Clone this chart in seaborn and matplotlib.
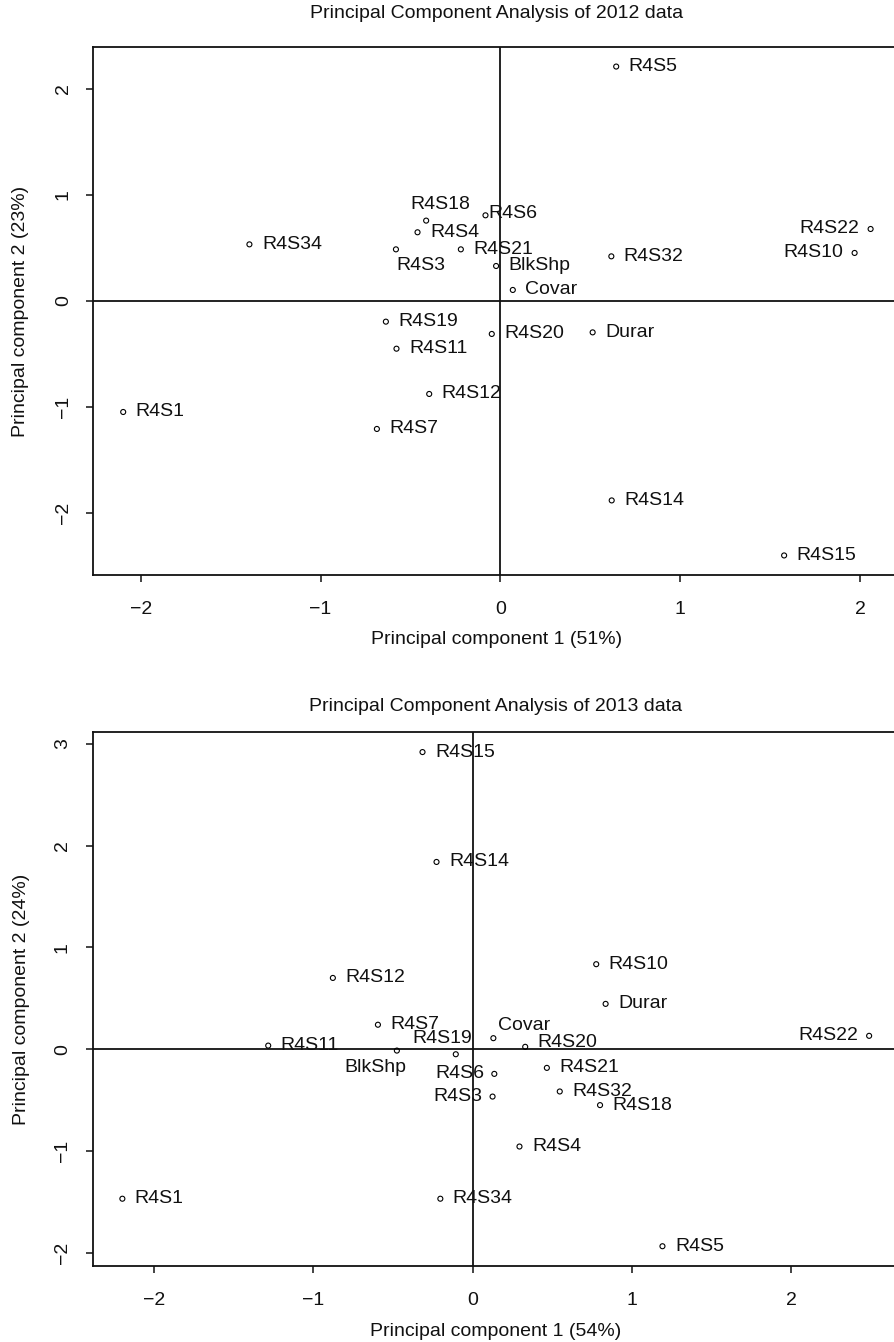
import matplotlib
matplotlib.use("Agg")
import matplotlib.pyplot as plt
import seaborn as sns
import pandas as pd

# ---------------- data ----------------
names_2012 = ["R4S5", "R4S18", "R4S4", "R4S6", "R4S34", "R4S3", "R4S21", "BlkShp",
              "Covar", "R4S32", "R4S22", "R4S10", "R4S19", "R4S11", "R4S20", "Durar",
              "R4S12", "R4S7", "R4S1", "R4S14", "R4S15"]
pc1_2012 = [0.644, -0.413, -0.461, -0.083, -1.396, -0.581, -0.220, -0.024,
            0.069, 0.617, 2.059, 1.970, -0.637, -0.578, -0.048, 0.513,
            -0.396, -0.687, -2.098, 0.619, 1.578]
pc2_2012 = [2.208, 0.755, 0.645, 0.805, 0.531, 0.484, 0.484, 0.327,
            0.101, 0.418, 0.676, 0.450, -0.198, -0.453, -0.314, -0.299,
            -0.880, -1.210, -1.050, -1.884, -2.403]

names_2013 = ["R4S15", "R4S14", "R4S12", "R4S7", "R4S11", "BlkShp", "R4S19", "Covar",
              "R4S20", "R4S6", "R4S3", "R4S21", "R4S32", "R4S18", "R4S4", "R4S10",
              "Durar", "R4S22", "R4S1", "R4S34", "R4S5"]
pc1_2013 = [-0.315, -0.227, -0.878, -0.595, -1.284, -0.476, -0.106, 0.130,
            0.330, 0.136, 0.125, 0.466, 0.547, 0.800, 0.294, 0.776,
            0.835, 2.490, -2.200, -0.203, 1.192]
pc2_2013 = [2.920, 1.840, 0.700, 0.240, 0.035, -0.014, -0.050, 0.108,
            0.023, -0.243, -0.466, -0.184, -0.416, -0.550, -0.957, 0.835,
            0.445, 0.131, -1.470, -1.470, -1.937]

ticks_x = [-2, -1, 0, 1, 2]
ticks_y_2012 = [-2, -1, 0, 1, 2]
ticks_y_2013 = [-2, -1, 0, 1, 2, 3]

titles = ["Principal Component Analysis of 2012 data",
          "Principal Component Analysis of 2013 data"]
xlabels = ["Principal component 1 (51%)", "Principal component 1 (54%)"]
ylabels = ["Principal component 2 (23%)", "Principal component 2 (24%)"]

# label placement (offset in points, horizontal alignment)
place_2012 = {
    "R4S18": (10, 11.5, "center"),
    "R4S6": (2, 1, "left"),
    "R4S3": (0.5, -11.7, "left"),
    "R4S22": (-8, 0, "right"),
    "R4S10": (-8, 0, "right"),
}
place_2013 = {
    "BlkShp": (-15.5, -12, "center"),
    "R4S19": (-10, 11.5, "center"),
    "Covar": (3.6, 8.9, "left"),
    "R4S6": (-7, 0, "right"),
    "R4S3": (-7, 0, "right"),
    "R4S22": (-8, 0, "right"),
    "R4S20": (9, 3, "left"),
}

# ---------------- style ----------------
sns.set_style("ticks")
plt.rcParams["font.family"] = ["Liberation Sans", "DejaVu Sans"]
plt.rcParams["axes.unicode_minus"] = True

W, H = 894, 1342
fig = plt.figure(figsize=(W / 100, H / 100), dpi=100)
fig.patch.set_facecolor("white")

# axes boxes in pixels: left, right, top, bottom
boxes = [(93.3, 900.5, 47.0, 575.0), (92.5, 899.0, 732.3, 1266.0)]
title_gap = [34.0, 25.3]

panels = [
    (names_2012, pc1_2012, pc2_2012, ticks_y_2012, place_2012),
    (names_2013, pc1_2013, pc2_2013, ticks_y_2013, place_2013),
]

FS = 14
for i, (names, pc1, pc2, yt, place) in enumerate(panels):
    l, r, t, b = boxes[i]
    ax = fig.add_axes([l / W, 1 - b / H, (r - l) / W, (b - t) / H])
    ax.set_facecolor("white")
    df = pd.DataFrame({"name": names, "PC1": pc1, "PC2": pc2})
    sns.scatterplot(data=df, x="PC1", y="PC2", ax=ax, marker="o", s=13,
                    color="black", linewidth=0.8, legend=False)
    coll = ax.collections[-1]
    coll.set_facecolor("none")
    coll.set_edgecolor("black")
    ax.margins(x=0.04, y=0.04)
    ax.axhline(0, color="#111111", lw=1.3, zorder=0)
    ax.axvline(0, color="#111111", lw=1.3, zorder=0)

    for n, x, y in zip(names, pc1, pc2):
        dx, dy, ha = place.get(n, (9, 0, "left"))
        ax.annotate(n, (x, y), xytext=(dx, dy), textcoords="offset points",
                    ha=ha, va="center", fontsize=FS, color="#111111")

    ax.set_xticks(ticks_x)
    ax.set_yticks(yt)
    ax.set_xticklabels([f"{v}".replace("-", "\u2212") for v in ticks_x])
    ax.set_yticklabels([f"{v}".replace("-", "\u2212") for v in yt])
    ax.tick_params(axis="both", direction="out", length=5, width=1.1,
                   labelsize=FS, colors="#111111")
    ax.tick_params(axis="x", pad=14)
    ax.tick_params(axis="y", pad=10.5, labelrotation=90)
    for lab in ax.get_yticklabels():
        lab.set_va("center")
    for sp in ax.spines.values():
        sp.set_linewidth(1.3)
        sp.set_color("#111111")
        sp.set_visible(True)

    h = b - t
    w = r - l
    ax.set_xlabel(xlabels[i], fontsize=FS, color="#111111")
    ax.xaxis.label.set_va("center")
    ax.xaxis.set_label_coords(0.5, -65.0 / h)
    ax.set_ylabel(ylabels[i], fontsize=FS, color="#111111")
    ax.yaxis.label.set_va("center")
    ax.yaxis.set_label_coords((21.0 - l) / w, 0.5)
    ax.set_title(titles[i], fontsize=FS, color="#111111", pad=0,
                 y=1 + title_gap[i] / h, va="center")

fig.savefig("out.png", dpi=100, facecolor="white")
